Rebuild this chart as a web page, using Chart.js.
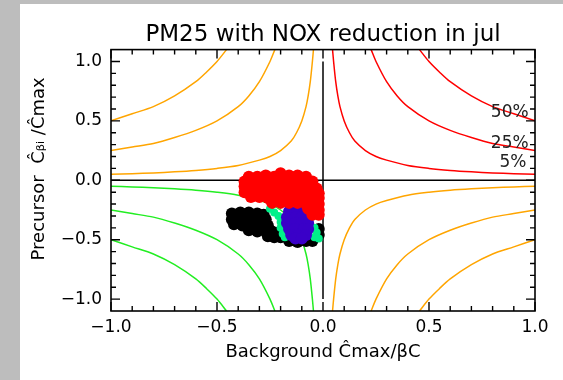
<!DOCTYPE html>
<html>
<head>
<meta charset="utf-8">
<script src="https://cdn.jsdelivr.net/npm/chart.js@4.4.1/dist/chart.umd.min.js"></script>
<style>
  html, body { margin: 0; padding: 0; width: 563px; height: 380px; overflow: hidden; background: #bdbdbd; }
  #wrap { position: absolute; left: 20px; top: 4px; width: 543px; height: 376px; background: #fff; }
</style>
</head>
<body>
<div id="wrap"><canvas id="chart" width="543" height="376"></canvas></div>
<script>
// contour levels (|x| and |y| along each curve, one quadrant)
const level50X = [0.455, 0.5, 0.55, 0.6, 0.7, 0.8, 0.9, 1.0];
const level50Y = [1.1, 1.0, 0.91, 0.83, 0.71, 0.62, 0.56, 0.5];
const level25X = [0.227, 0.25, 0.3, 0.35, 0.4, 0.5, 0.6, 0.7, 0.8, 0.9, 1.0];
const level25Y = [1.1, 1.0, 0.83, 0.71, 0.62, 0.5, 0.42, 0.36, 0.31, 0.28, 0.25];
const level5X = [0.045, 0.05, 0.06, 0.07, 0.08, 0.1, 0.125, 0.15, 0.2, 0.25, 0.3, 0.4, 0.5, 0.6, 0.7, 0.8, 0.9, 1.0];
const level5Y = [1.1, 1.0, 0.83, 0.71, 0.62, 0.5, 0.4, 0.33, 0.25, 0.2, 0.17, 0.125, 0.1, 0.083, 0.071, 0.062, 0.056, 0.05];

const levelLabels = ['50%', '25%', '5%'];
const levelLabelX = [0.97, 0.97, 0.96];
const levelLabelY = [0.57, 0.31, 0.15];

// zero cross lines
const crossH = [[-1.0, 0.0], [1.0, 0.0]];
const crossV = [[0.0, -1.0], [0.0, 1.0]];

// scatter clouds
const redPts = [
  [-0.35, 0.03], [-0.31, 0.03], [-0.27, 0.04], [-0.23, 0.03], [-0.20, 0.06], [-0.16, 0.04], [-0.12, 0.04], [-0.08, 0.03],
  [-0.37, -0.01], [-0.33, 0.0], [-0.29, 0.0], [-0.25, 0.0], [-0.21, 0.0], [-0.17, 0.0], [-0.13, 0.0], [-0.09, 0.0], [-0.05, -0.01],
  [-0.37, -0.05], [-0.33, -0.05], [-0.29, -0.05], [-0.25, -0.05], [-0.21, -0.05], [-0.17, -0.05], [-0.13, -0.05], [-0.09, -0.05], [-0.05, -0.05], [-0.03, -0.07],
  [-0.37, -0.10], [-0.33, -0.10], [-0.29, -0.10], [-0.25, -0.10], [-0.21, -0.10], [-0.17, -0.10], [-0.13, -0.10], [-0.09, -0.10], [-0.05, -0.10], [-0.02, -0.11],
  [-0.34, -0.14], [-0.30, -0.14], [-0.26, -0.15], [-0.22, -0.15], [-0.18, -0.15], [-0.14, -0.15], [-0.10, -0.15], [-0.06, -0.15], [-0.02, -0.15],
  [-0.24, -0.19], [-0.20, -0.19], [-0.16, -0.19], [-0.12, -0.19], [-0.08, -0.20], [-0.04, -0.20], [-0.02, -0.20],
  [-0.07, -0.24], [-0.04, -0.25], [-0.02, -0.25],
  [-0.05, -0.29], [-0.02, -0.29]
];
const bluePts = [
  [-0.16, -0.26], [-0.12, -0.26], [-0.09, -0.27],
  [-0.17, -0.31], [-0.13, -0.31], [-0.10, -0.31], [-0.07, -0.31],
  [-0.17, -0.36], [-0.13, -0.36], [-0.10, -0.36], [-0.07, -0.36],
  [-0.16, -0.41], [-0.13, -0.41], [-0.09, -0.41], [-0.07, -0.41],
  [-0.15, -0.46], [-0.12, -0.46], [-0.08, -0.46],
  [-0.13, -0.49], [-0.10, -0.49]
];
const greenPts = [
  [-0.25, -0.24], [-0.23, -0.27], [-0.21, -0.30], [-0.20, -0.35], [-0.20, -0.40], [-0.19, -0.45], [-0.18, -0.48],
  [-0.04, -0.40], [-0.03, -0.44], [-0.04, -0.48], [-0.02, -0.49], [-0.02, -0.19]
];
const blackPts = [
  [-0.43, -0.28], [-0.39, -0.27], [-0.35, -0.27], [-0.31, -0.28], [-0.28, -0.29],
  [-0.43, -0.33], [-0.39, -0.33], [-0.35, -0.33], [-0.31, -0.33], [-0.27, -0.33],
  [-0.42, -0.37], [-0.38, -0.38], [-0.34, -0.38], [-0.30, -0.38], [-0.26, -0.38],
  [-0.35, -0.42], [-0.31, -0.43], [-0.27, -0.43], [-0.24, -0.43], [-0.21, -0.44],
  [-0.26, -0.47], [-0.23, -0.48], [-0.20, -0.48],
  [-0.16, -0.51], [-0.12, -0.52], [-0.08, -0.51], [-0.05, -0.51], [-0.02, -0.46], [-0.02, -0.41]
];

// axes
const xTickVals = [-1.0, -0.5, 0.0, 0.5, 1.0];
const xTickLabels = ['\u22121.0', '\u22120.5', '0.0', '0.5', '1.0'];
const yTickVals = [-1.0, -0.5, 0.0, 0.5, 1.0];
const yTickLabels = ['\u22121.0', '\u22120.5', '0.0', '0.5', '1.0'];
const xMinorVals = [-0.9, -0.8, -0.7, -0.6, -0.4, -0.3, -0.2, -0.1, 0.1, 0.2, 0.3, 0.4, 0.6, 0.7, 0.8, 0.9];
const yMinorVals = [-0.9, -0.8, -0.7, -0.6, -0.4, -0.3, -0.2, -0.1, 0.1, 0.2, 0.3, 0.4, 0.6, 0.7, 0.8, 0.9];

const ORANGE = '#ffa500';
const RED = '#ff0000';
const GREEN = '#22ee22';

function quadrant(xs, ys, sx, sy) {
  return xs.map((v, i) => ({ x: v * sx, y: ys[i] * sy }));
}
function toXY(pts) {
  return pts.map(p => ({ x: p[0], y: p[1] }));
}

function curve(xs, ys, sx, sy, color) {
  return {
    data: quadrant(xs, ys, sx, sy),
    showLine: true,
    borderColor: color,
    borderWidth: 1.5,
    pointRadius: 0,
    tension: 0.3,
    order: 10
  };
}
function cloud(pts, color, order, radius) {
  return {
    data: toXY(pts),
    showLine: false,
    backgroundColor: color,
    borderColor: color,
    borderWidth: 0,
    pointRadius: radius,
    order: order
  };
}

const datasets = [];
[[level50X, level50Y], [level25X, level25Y], [level5X, level5Y]].forEach(([xs, ys]) => {
  datasets.push(curve(xs, ys, 1, 1, RED));
  datasets.push(curve(xs, ys, -1, 1, ORANGE));
  datasets.push(curve(xs, ys, -1, -1, GREEN));
  datasets.push(curve(xs, ys, 1, -1, ORANGE));
});
datasets.push({ data: toXY(crossH), showLine: true, borderColor: '#000', borderWidth: 1.5, pointRadius: 0, order: 9 });
datasets.push({ data: toXY(crossV), showLine: true, borderColor: '#000', borderWidth: 1.5, pointRadius: 0, order: 9 });
datasets.push(cloud(blackPts, '#000000', 4, 6));
datasets.push(cloud(greenPts, '#00f08a', 3, 4));
datasets.push(cloud(bluePts, '#3a00c8', 2, 6));
datasets.push(cloud(redPts, RED, 1, 6));

// IDL style frame with inward ticks on all four sides, plus level labels
const idlFrame = {
  id: 'idlFrame',
  afterDatasetsDraw(chart) {
    const { ctx, chartArea: a, scales: { x, y } } = chart;
    ctx.save();
    ctx.strokeStyle = '#000';
    ctx.lineWidth = 1.6;
    ctx.strokeRect(a.left, a.top, a.right - a.left, a.bottom - a.top);
    ctx.lineWidth = 1.4;
    ctx.beginPath();
    const tick = (vals, len) => {
      vals.forEach(v => {
        const px = x.getPixelForValue(v);
        ctx.moveTo(px, a.bottom); ctx.lineTo(px, a.bottom - len);
        ctx.moveTo(px, a.top); ctx.lineTo(px, a.top + len);
      });
    };
    const tickY = (vals, len) => {
      vals.forEach(v => {
        const py = y.getPixelForValue(v);
        ctx.moveTo(a.left, py); ctx.lineTo(a.left + len, py);
        ctx.moveTo(a.right, py); ctx.lineTo(a.right - len, py);
      });
    };
    tick(xTickVals, 9); tick(xMinorVals, 5);
    tickY(yTickVals, 9); tickY(yMinorVals, 5);
    ctx.stroke();

    ctx.fillStyle = '#222';
    ctx.font = '17px "DejaVu Sans"';
    ctx.textAlign = 'right';
    ctx.textBaseline = 'middle';
    levelLabels.forEach((t, i) => {
      ctx.fillText(t, x.getPixelForValue(levelLabelX[i]), y.getPixelForValue(levelLabelY[i]));
    });
    ctx.restore();
  }
};

Chart.defaults.font.family = '"DejaVu Sans", sans-serif';
Chart.defaults.color = '#000';

new Chart(document.getElementById('chart').getContext('2d'), {
  type: 'scatter',
  data: { datasets: datasets },
  options: {
    responsive: false,
    animation: false,
    devicePixelRatio: 1,
    layout: { padding: { left: 0, right: 28, top: 0, bottom: 0 } },
    plugins: {
      legend: { display: false },
      tooltip: { enabled: false },
      title: {
        display: true,
        text: 'PM25 with NOX reduction in jul',
        fullSize: false,
        color: '#000',
        font: { size: 23, weight: 'normal' },
        padding: { top: 17, bottom: 1 }
      }
    },
    scales: {
      x: {
        type: 'linear',
        min: -1.0,
        max: 1.0,
        grid: { display: false, drawTicks: false },
        border: { display: false },
        afterBuildTicks: s => { s.ticks = xTickVals.map(v => ({ value: v })); },
        afterFit: s => { s.height = 69; },
        ticks: {
          padding: 6,
          maxRotation: 0,
          font: { size: 17 },
          callback: (v, i) => xTickLabels[i]
        },
        title: {
          display: true,
          text: 'Background \u0108max/\u03b2C',
          font: { size: 18 },
          padding: { top: 0, bottom: 17 }
        }
      },
      y: {
        type: 'linear',
        min: -1.1,
        max: 1.1,
        grid: { display: false, drawTicks: false },
        border: { display: false },
        afterBuildTicks: s => { s.ticks = yTickVals.map(v => ({ value: v })); },
        afterFit: s => { s.width = 91; },
        ticks: {
          padding: 9,
          font: { size: 17 },
          callback: (v, i) => yTickLabels[i]
        },
        title: {
          display: true,
          text: '    Precursor  \u0108\u1d66\u1d62 /\u0108max',
          font: { size: 18 },
          padding: { top: 9, bottom: 0 }
        }
      }
    }
  },
  plugins: [idlFrame]
});
</script>
</body>
</html>
